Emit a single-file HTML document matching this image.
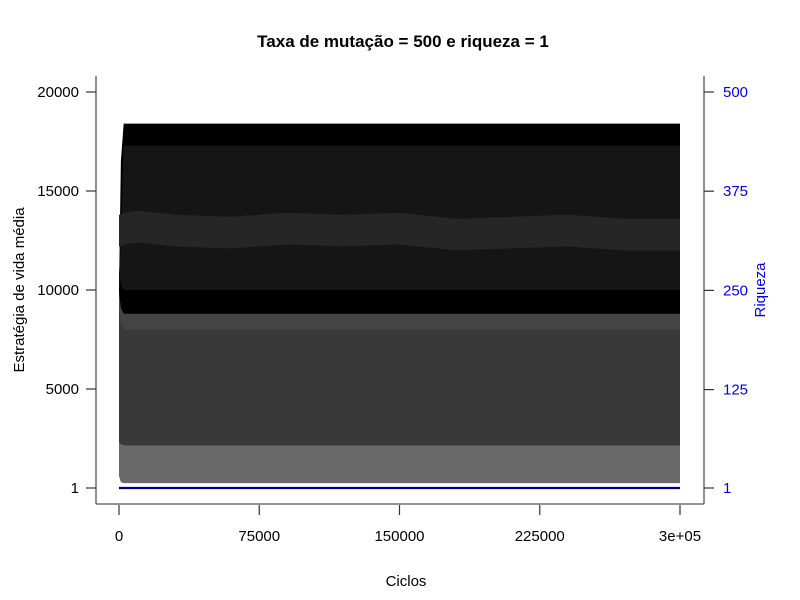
<!DOCTYPE html>
<html><head><meta charset="utf-8"><style>
body{margin:0;background:#fff}
svg{display:block;font-family:"Liberation Sans",Arial,sans-serif}
</style></head><body>
<svg id="chart" width="800" height="600">
<rect width="800" height="600" fill="#fff"/>
<text x="403" y="47" text-anchor="middle" font-size="17" font-weight="bold">Taxa de mutação = 500 e riqueza = 1</text>
<g id="marks"></g>
<g id="axes" stroke="#555" stroke-width="1.3" fill="none">
<line x1="96" y1="76" x2="96" y2="504"/>
<line x1="96" y1="504" x2="704" y2="504"/>
<line x1="704" y1="76" x2="704" y2="504"/>
</g>
<g id="ticks" font-size="15"></g>
<text x="406" y="586" text-anchor="middle" font-size="15">Ciclos</text>
<text transform="translate(24,290) rotate(-90)" text-anchor="middle" font-size="15">Estratégia de vida média</text>
<text transform="translate(765,290) rotate(-90)" text-anchor="middle" font-size="15" fill="#0000ee">Riqueza</text>
</svg>
<script>
const cycles=[0,1000,2500,10000,30000,60000,90000,120000,150000,180000,210000,240000,270000,300000];
const maxStrategy=[10000,16500,18400,18400,18400,18400,18400,18400,18400,18400,18400,18400,18400,18400];
const speckleTop=[10000,12500,17300,17300,17300,17300,17300,17300,17300,17300,17300,17300,17300,17300];
const blackLow=[9800,9000,8700,8700,8700,8700,8700,8700,8700,8700,8700,8700,8700,8700];
const darkLow=[2300,2200,2150,2150,2150,2150,2150,2150,2150,2150,2150,2150,2150,2150];
const minStrategy=[600,300,250,250,250,250,250,250,250,250,250,250,250,250];
const brightBand=[13000,13000,13100,13200,13000,12900,13100,13000,13100,12800,12900,13000,12800,12800];
const riqueza=[1,1,1,1,1,1,1,1,1,1,1,1,1,1];
const xTicks=[0,75000,150000,225000,300000];
const xTickLabels=["0","75000","150000","225000","3e+05"];
const yTicks=[1,5000,10000,15000,20000];
const yTickLabels=["1","5000","10000","15000","20000"];
const rTicks=[1,125,250,375,500];
const rTickLabels=["1","125","250","375","500"];

const X=c=>119+c*561/300000;
const Y=v=>488-(v-1)*396/19999;
const R=v=>488-(v-1)*396/499;
const NS="http://www.w3.org/2000/svg";
const marks=document.getElementById('marks');
const ticks=document.getElementById('ticks');
function band(top,bot,fill,name){
  let d="M"+cycles.map((c,i)=>X(c)+","+Y(top[i])).join("L");
  for(let i=cycles.length-1;i>=0;i--)d+="L"+X(cycles[i])+","+Y(bot[i]);
  const p=document.createElementNS(NS,"path");
  p.setAttribute("d",d+"Z");p.setAttribute("fill",fill);
  
  
  marks.appendChild(p);
}
band(darkLow,minStrategy,"#6a6a6a","band-low-gray");
band(blackLow,darkLow,"#393939","band-dark-gray");
band(maxStrategy,blackLow,"#000","band-black");
band(speckleTop,blackLow.map((v,i)=>Math.max(v+1300,10000)),"#151515","band-speckled");
band(brightBand.map(v=>v+800),brightBand.map(v=>v-800),"#262626","band-bright");
band(blackLow.map(v=>v+100),blackLow.map(v=>v-700),"#444","band-gray-fringe");
const rl=document.createElementNS(NS,"polyline");
rl.setAttribute("points",cycles.map((c,i)=>X(c)+","+R(riqueza[i])).join(" "));
rl.setAttribute("stroke","#00007f");rl.setAttribute("stroke-width","2.2");rl.setAttribute("fill","none");


marks.appendChild(rl);
function line(x1,y1,x2,y2,name){
  const l=document.createElementNS(NS,"line");
  l.setAttribute("x1",x1);l.setAttribute("y1",y1);l.setAttribute("x2",x2);l.setAttribute("y2",y2);
  l.setAttribute("stroke","#333");l.setAttribute("stroke-width","1.2");
  
  
  ticks.appendChild(l);
}
function text(x,y,s,anchor,fill,name){
  const t=document.createElementNS(NS,"text");
  t.setAttribute("x",x);t.setAttribute("y",y);t.setAttribute("text-anchor",anchor);t.setAttribute("fill",fill);
  t.textContent=s;
  
  
  ticks.appendChild(t);
}
xTicks.forEach((v,i)=>{line(X(v),505,X(v),515,"x-tick");text(X(v),541,xTickLabels[i],"middle","#000","x-tick-label");});
yTicks.forEach((v,i)=>{line(86,Y(v),96,Y(v),"y-tick");text(79,Y(v)+5,yTickLabels[i],"end","#000","y-tick-label");});
rTicks.forEach((v,i)=>{line(704,R(v),714,R(v),"right-tick");text(723,R(v)+5,rTickLabels[i],"start","#0000ee","right-tick-label");});
</script>
</body></html>
